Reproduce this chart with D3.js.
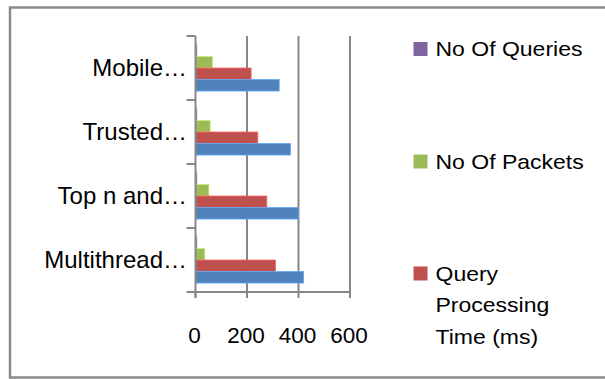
<!DOCTYPE html>
<html>
<head>
<meta charset="utf-8">
<script src="https://cdn.jsdelivr.net/npm/d3@7"></script>
<style>
  html, body { margin: 0; padding: 0; background: #fff; overflow: hidden; }
  svg { display: block; font-family: "Liberation Sans", Arial, sans-serif; }
</style>
</head>
<body>
<div id="chart"></div>
<script>
// Chart data (categories listed top to bottom as drawn)
const categories = ["Mobile…", "Trusted…", "Top n and…", "Multithread…"];
const noOfQueries = [5, 5, 5, 5];
const noOfPackets = [66, 57, 52, 36];
const queryTime = [216, 242, 277, 311];
const fourthSeries = [325, 369, 400, 420];
const xTicks = [0, 200, 400, 600];

// series in the order they sit inside a group, top to bottom
const seriesKeys = ["queries", "packets", "time", "fourth"];
const seriesValues = { queries: noOfQueries, packets: noOfPackets, time: queryTime, fourth: fourthSeries };
const seriesColors = { queries: "#8064A2", packets: "#9BBB59", time: "#C0504D", fourth: "#4F81BD" };
const legendItems = [
  { key: "queries", lines: ["No Of Queries"] },
  { key: "packets", lines: ["No Of Packets"] },
  { key: "time", lines: ["Query", "Processing", "Time (ms)"] }
];

const width = 605, height = 379;
const axisColor = "#878787";

const svg = d3.select("#chart").append("svg")
  .attr("width", width)
  .attr("height", height);

// outer frame (cut off on the right)
svg.append("path")
  .attr("d", `M${width},7.5H10V377.5H${width}`)
  .attr("fill", "none")
  .attr("stroke", "#8a8a8a")
  .attr("stroke-width", 2.5);

const plot = { left: 195.5, right: 350, top: 36, bottom: 292 };

const x = d3.scaleLinear().domain([0, 600]).range([plot.left, plot.right]);
const y0 = d3.scaleBand().domain(categories)
  .range([plot.top, plot.bottom])
  .paddingInner(0.28).paddingOuter(0.14);
const y1 = d3.scaleBand().domain(seriesKeys).range([0, y0.bandwidth()]);

// vertical gridlines
svg.append("g")
  .selectAll("line")
  .data(xTicks.filter(d => d > 0))
  .join("line")
  .attr("x1", d => x(d)).attr("x2", d => x(d))
  .attr("y1", plot.top).attr("y2", plot.bottom)
  .attr("stroke", axisColor)
  .attr("stroke-width", 2);

// bars
const rows = categories.map((c, i) => ({
  category: c,
  values: seriesKeys.map(k => ({ key: k, value: seriesValues[k][i] }))
}));

svg.append("g")
  .selectAll("g")
  .data(rows)
  .join("g")
  .attr("transform", d => `translate(0,${y0(d.category)})`)
  .selectAll("rect")
  .data(d => d.values)
  .join("rect")
  .attr("x", x(0))
  .attr("y", d => y1(d.key))
  .attr("width", d => x(d.value) - x(0))
  .attr("height", y1.bandwidth())
  .attr("fill", d => seriesColors[d.key])
  .attr("stroke", d => d3.color(seriesColors[d.key]).brighter(0.7))
  .attr("stroke-width", 0.8);

// category axis (ticks at band boundaries, Excel style)
const step = y0.step();
const boundaries = d3.range(categories.length + 1).map(i => plot.top + i * step);

svg.append("line")
  .attr("x1", x(0)).attr("x2", x(0))
  .attr("y1", plot.top).attr("y2", plot.bottom + 6)
  .attr("stroke", axisColor).attr("stroke-width", 2);

svg.append("g")
  .selectAll("line")
  .data(boundaries)
  .join("line")
  .attr("x1", x(0) - 9).attr("x2", x(0))
  .attr("y1", d => d).attr("y2", d => d)
  .attr("stroke", axisColor).attr("stroke-width", 2);

svg.append("g")
  .selectAll("text")
  .data(categories)
  .join("text")
  .attr("x", x(0) - 8.5)
  .attr("y", d => y0(d) + y0.bandwidth() / 2)
  .attr("dy", "0.34em")
  .attr("text-anchor", "end")
  .style("font-size", "24px")
  .attr("fill", "#000")
  .text(d => d);

// value axis
svg.append("line")
  .attr("x1", x(0)).attr("x2", x(600) + 1)
  .attr("y1", plot.bottom).attr("y2", plot.bottom)
  .attr("stroke", axisColor).attr("stroke-width", 2);

const xAxis = svg.append("g");
xAxis.selectAll("line")
  .data(xTicks)
  .join("line")
  .attr("x1", d => x(d)).attr("x2", d => x(d))
  .attr("y1", plot.bottom).attr("y2", plot.bottom + 6)
  .attr("stroke", axisColor).attr("stroke-width", 2);

xAxis.selectAll("text")
  .data(xTicks)
  .join("text")
  .attr("x", d => x(d) - 1)
  .attr("y", 343)
  .attr("text-anchor", "middle")
  .style("font-size", "22.5px")
  .attr("fill", "#000")
  .text(d => d);

// legend
const legendTops = [42, 154.5, 266.5];
const legend = svg.append("g")
  .selectAll("g")
  .data(legendItems)
  .join("g")
  .attr("transform", (d, i) => `translate(413.5,${legendTops[i]})`);

legend.append("rect")
  .attr("width", 14).attr("height", 14)
  .attr("fill", d => seriesColors[d.key]);

// wider glyphs, like the original Calibri text
legend.append("g")
  .attr("transform", "translate(22,0) scale(1.15,1)")
  .append("text")
  .style("font-size", "20px")
  .attr("fill", "#000")
  .selectAll("tspan")
  .data(d => d.lines)
  .join("tspan")
  .attr("x", 0)
  .attr("y", (d, i) => 14.3 + i * 31.5)
  .text(d => d);
</script>
</body>
</html>
